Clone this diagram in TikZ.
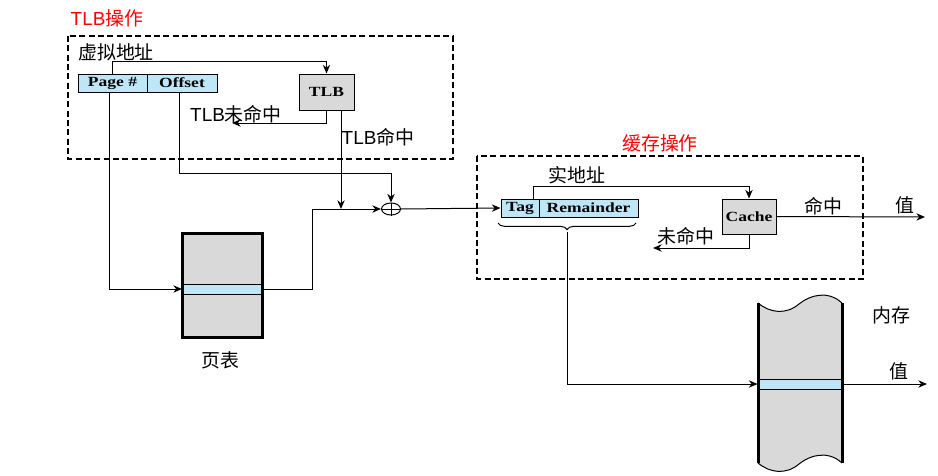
\documentclass[tikz,border=0pt]{standalone}
\usepackage{fontspec}
\setmainfont{Liberation Sans}
\newfontfamily\cjk{Noto Sans CJK SC}
\newfontfamily\boxfont[FakeStretch=1.25]{Liberation Serif Bold}
\usetikzlibrary{arrows.meta,shapes.geometric,decorations.pathreplacing}
\definecolor{lblue}{HTML}{BEE6F6}
\definecolor{lgray}{HTML}{D9D9D9}
\begin{document}
\begin{tikzpicture}[x=0.75pt,y=-0.75pt,
  arr/.style={-{Stealth[length=6.5pt,width=5.5pt]},line width=0.75pt},
  ln/.style={line width=0.75pt},
  opbox/.style={draw=black,line width=2pt,dash pattern=on 4.5pt off 2.5pt},
  cell/.style={draw,line width=0.75pt,fill=lblue,inner sep=0pt,font=\boxfont\fontsize{10.5}{12}\selectfont},
  unit/.style={draw,line width=0.75pt,fill=lgray,inner sep=0pt,font=\boxfont\fontsize{10.5}{12}\selectfont},
  lab/.style={font=\fontsize{14.2}{16}\selectfont,inner sep=0pt},
  ttl/.style={lab,text=red},
]
\useasboundingbox (0,0) rectangle (938,475);
\fill[white] (0,0) rectangle (938,475);

% operation frames
\draw[opbox] (68,36) rectangle (453,159);
\draw[opbox] (477,156) rectangle (863,279);
\node[ttl] (tlbop) at (107,18) {TLB{\cjk 操作}};
\node[ttl] (cacheop) at (660,143) {\cjk 缓存操作};

% TLB part
\node[lab] (vaddr) at (116,52) {\cjk 虚拟地址};
\node[cell,minimum width={69*0.75pt},minimum height={18*0.75pt}] (pagecell) at (112.5,83) {Page \#};
\node[cell,minimum width={70*0.75pt},minimum height={18*0.75pt}] (offcell) at (182,83) {Offset};
\node[unit,minimum width={55*0.75pt},minimum height={36*0.75pt}] (tlb) at (326.5,92) {TLB};
\node[lab] (tlbmisslab) at (236,114) {TLB{\cjk 未命中}};
\node[lab] (tlbhitlab) at (378,137) {TLB{\cjk 命中}};
\coordinate (vtop) at (112.5,61);
\coordinate (tlbmiss) at (232,123);
\coordinate (hitj) at (341,209);
\coordinate (offy) at (391,173);
\coordinate (bend) at (312,209);

% page table
\node[fill=lgray,minimum width={80*0.75pt},minimum height={104*0.75pt},inner sep=0pt] (ptable) at (222.5,285.5) {};
\node[draw,ln,fill=lblue,minimum width={80*0.75pt},minimum height={10*0.75pt},inner sep=0pt] (ptstrip) at (222.5,289) {};
\draw[line width=2.25pt] (ptable.south west) rectangle (ptable.north east);
\node[lab] (ptlab) at (220,360) {\cjk 页表};

% xor
\node[draw,ellipse,ln,minimum width={19*0.75pt},minimum height={12*0.75pt},inner sep=0pt] (xor) at (391,209) {};
\draw[ln] (xor.north) -- (xor.south) (xor.west) -- (xor.east);

% TLB connectors
\draw[arr] (pagecell.north) -- (vtop) -| (tlb.north);
\draw[arr] (tlb.south) |- (tlbmiss);
\draw[arr] (tlb.south -| hitj) -- (hitj);
\draw[arr] ([xshift=-2.25pt]pagecell.south) |- (ptstrip.west);
\draw[arr] ([xshift=-2.25pt]offcell.south) |- (offy) -- (xor.north);
\draw[arr] (ptstrip.east) -| (bend) -- (xor.west);

% cache part
\node[lab] (raddr) at (577,175) {\cjk 实地址};
\node[cell,minimum width={38*0.75pt},minimum height={18*0.75pt}] (tag) at (520,208) {Tag};
\node[cell,minimum width={99*0.75pt},minimum height={18*0.75pt}] (rem) at (588.5,208) {Remainder};
\node[unit,minimum width={54*0.75pt},minimum height={35*0.75pt}] (cache) at (749,216.5) {Cache};
\node[lab] (cmisslab) at (686,236) {\cjk 未命中};
\node[lab] (chitlab) at (823,206) {\cjk 命中};
\node[lab] (val1) at (905,205) {\cjk 值};
\coordinate (ra) at (533,186);
\coordinate (cmiss) at (653,248);
\coordinate (chit) at (925,217);
\coordinate (bracetip) at (567,232);

\draw[arr] (xor.east) -- (tag.west);
\draw[arr] (tag.north -| ra) -- (ra) -| (cache.north);
\draw[arr] (cache.south) |- (cmiss);
\draw[arr] (cache.east) -- (chit);
\draw[ln,decorate,decoration={brace,mirror,amplitude=5pt}] (498,223) -- (636,223);

% memory
\fill[lgray] (758,303) .. controls (770,313) and (786,315) .. (799,304)
  .. controls (810,295) and (828,290) .. (842,303) -- (842,463)
  .. controls (828,450) and (810,455) .. (799,464)
  .. controls (786,475) and (770,473) .. (758,463) -- cycle;
\draw[ln] (758,303) .. controls (770,313) and (786,315) .. (799,304)
  .. controls (810,295) and (828,290) .. (842,303);
\draw[ln] (758,463) .. controls (770,473) and (786,475) .. (799,464)
  .. controls (810,455) and (828,450) .. (842,463);
\node[draw,ln,fill=lblue,minimum width={84*0.75pt},minimum height={10*0.75pt},inner sep=0pt] (memstrip) at (800,384) {};
\draw[line width=2.25pt] (758,303) -- (758,463) (842,303) -- (842,463);
\node[lab] (memlab) at (891,315) {\cjk 内存};
\node[lab] (val2) at (899,371) {\cjk 值};
\coordinate (memval) at (927,384);

\draw[arr] (bracetip) |- (memstrip.west);
\draw[arr] (memstrip.east) -- (memval);
\end{tikzpicture}
\end{document}
